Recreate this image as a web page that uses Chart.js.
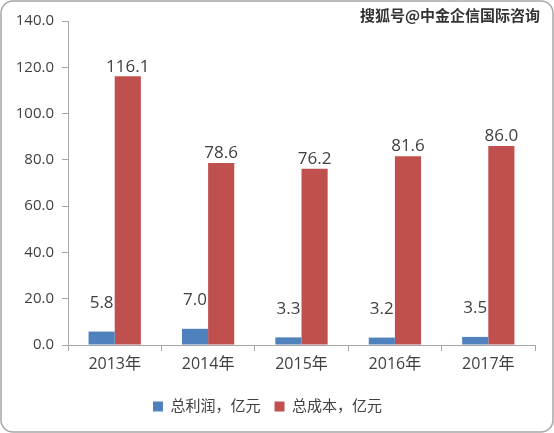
<!DOCTYPE html>
<html>
<head>
<meta charset="utf-8">
<script src="https://cdn.jsdelivr.net/npm/chart.js@4"></script>
<style>
  body { margin: 0; background: #fff; }
  canvas { display: block; }
</style>
</head>
<body>
<canvas id="grafico" width="554" height="433"></canvas>
<script>
// Datos del gráfico
const anios = ['2013年', '2014年', '2015年', '2016年', '2017年'];
const totalLirun = [5.8, 7.0, 3.3, 3.2, 3.5];
const totalChengben = [116.1, 78.6, 76.2, 81.6, 86.0];
const ticksY = [0, 20, 40, 60, 80, 100, 120, 140];

const fuente = "'Open Sans', 'Noto Sans CJK SC', sans-serif";
const colorTexto = '#404040';

// Marco redondeado y marca de agua
const fondo = {
    id: 'fondo',
    beforeDraw(chart) {
        const ctx = chart.ctx;
        ctx.save();
        ctx.fillStyle = '#fff';
        ctx.fillRect(0, 0, chart.width, chart.height);
        ctx.strokeStyle = '#a6a6a6';
        ctx.lineWidth = 1.5;
        ctx.beginPath();
        ctx.roundRect(1, 1, chart.width - 2, chart.height - 2, 12);
        ctx.stroke();
        ctx.restore();
    },
    afterDraw(chart) {
        const ctx = chart.ctx;
        ctx.save();
        ctx.font = "bold 15px 'Noto Sans CJK SC', sans-serif";
        ctx.fillStyle = '#333';
        ctx.textAlign = 'right';
        ctx.textBaseline = 'middle';
        ctx.fillText('搜狐号@中金企信国际咨询', 540, 15);
        ctx.restore();
    }
};

// Etiquetas de valores
const etiquetas = {
    id: 'etiquetas',
    afterDatasetsDraw(chart) {
        const ctx = chart.ctx;
        ctx.save();
        ctx.font = '17px ' + fuente;
        ctx.fillStyle = colorTexto;
        ctx.textAlign = 'center';
        ctx.textBaseline = 'bottom';
        chart.data.datasets.forEach((ds, i) => {
            chart.getDatasetMeta(i).data.forEach((bar, j) => {
                const extra = i === 0 ? 20 : 1;
                ctx.fillText(ds.data[j].toFixed(1), bar.x, bar.y - extra);
            });
        });
        ctx.restore();
    }
};

new Chart(document.getElementById('grafico').getContext('2d'), {
    type: 'bar',
    data: {
        labels: anios,
        datasets: [
            {
                label: '总利润，亿元',
                data: totalLirun,
                backgroundColor: '#4f81bd'
            },
            {
                label: '总成本，亿元',
                data: totalChengben,
                backgroundColor: '#c0504d'
            }
        ]
    },
    options: {
        responsive: false,
        animation: false,
        layout: { padding: { left: 0, right: 19, top: 21, bottom: 9 } },
        datasets: { bar: { categoryPercentage: 0.56, barPercentage: 1 } },
        plugins: {
            legend: {
                position: 'bottom',
                labels: {
                    font: { size: 15, family: fuente },
                    color: colorTexto,
                    boxWidth: 10,
                    boxHeight: 10,
                    padding: 14
                }
            },
            tooltip: { enabled: false }
        },
        scales: {
            x: {
                grid: { offset: true, drawOnChartArea: false, tickLength: 6, color: '#a6a6a6' },
                border: { color: '#a6a6a6' },
                ticks: { font: { size: 16, family: fuente }, color: colorTexto, padding: 4 },
                afterFit(scale) { scale.height = 40; }
            },
            y: {
                min: 0,
                max: 140,
                afterBuildTicks(scale) { scale.ticks = ticksY.map(v => ({ value: v })); },
                grid: { drawOnChartArea: false, tickLength: 6, color: '#a6a6a6' },
                border: { color: '#a6a6a6' },
                ticks: {
                    font: { size: 15, family: fuente },
                    color: colorTexto,
                    padding: 8,
                    callback: v => v.toFixed(1)
                },
                afterFit(scale) { scale.width = 68; }
            }
        }
    },
    plugins: [fondo, etiquetas]
});
</script>
</body>
</html>
